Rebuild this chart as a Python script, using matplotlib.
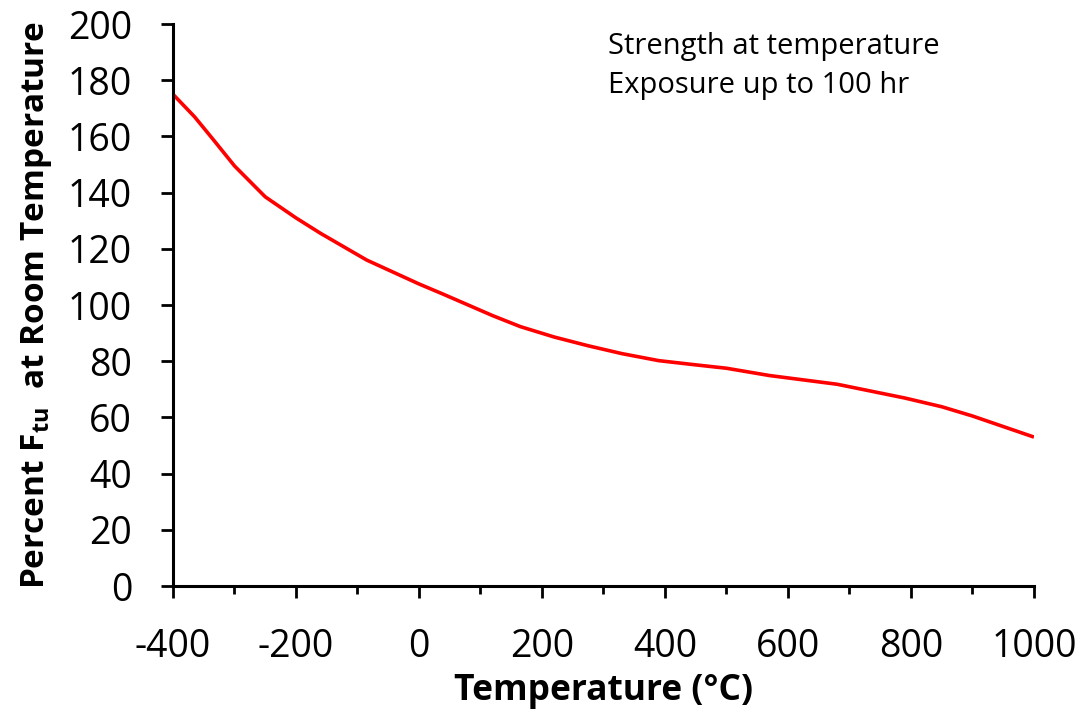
import matplotlib.pyplot as plt
from matplotlib.ticker import MultipleLocator

# strength retention curve, percent of room-temperature Ftu
temp_c = [-400, -365, -335, -300, -250, -200, -160, -85, 0, 40, 80, 120, 165, 220, 275, 330,
          390, 450, 500, 570, 680, 790, 850, 900, 1000]
pct_ftu = [175, 167, 159, 149.5, 138.5, 131, 125.5, 116, 107.5, 103.8, 100, 96.2, 92.3, 88.6,
           85.5, 82.7, 80.2, 78.7, 77.5, 74.9, 71.8, 66.9, 63.8, 60.5, 53]

x_ticks = [-400, -200, 0, 200, 400, 600, 800, 1000]
y_ticks = [0, 20, 40, 60, 80, 100, 120, 140, 160, 180, 200]
note_lines = ["Strength at temperature", "Exposure up to 100 hr"]

plt.rcParams['font.family'] = ['Open Sans', 'DejaVu Sans']
plt.rcParams['axes.unicode_minus'] = False
plt.rcParams['mathtext.fontset'] = 'custom'
plt.rcParams['mathtext.rm'] = 'Open Sans'
plt.rcParams['mathtext.bf'] = 'Open Sans:bold'

fig = plt.figure(figsize=(10.86, 7.11), dpi=100)
ax = fig.add_axes([0.1593, 0.1758, 0.7928, 0.7904])

ax.plot(temp_c, pct_ftu, color='#ff0000', lw=2.6, solid_capstyle='butt')

ax.set_xlim(-400, 1000)
ax.set_ylim(0, 200)
ax.set_xticks(x_ticks)
ax.set_yticks(y_ticks)
ax.xaxis.set_minor_locator(MultipleLocator(100))

for side in ['top', 'right']:
    ax.spines[side].set_visible(False)
for side in ['left', 'bottom']:
    ax.spines[side].set_linewidth(2.2)

ax.tick_params(axis='both', which='major', direction='out', length=8.5, width=2.0,
               labelsize=27)
ax.tick_params(axis='x', which='minor', direction='out', length=5.5, width=2.0)
ax.tick_params(axis='x', which='major', pad=22)
ax.tick_params(axis='y', which='major', pad=21)

ax.set_xlabel("Temperature (°C)", fontsize=25.5, fontweight='bold', labelpad=5)
ax.set_ylabel(r"Percent F$_\mathbf{tu}$  at Room Temperature", fontsize=24,
              fontweight='bold', labelpad=10)

ax.text(0.505, 0.985, "\n".join(note_lines), transform=ax.transAxes,
        fontsize=21, va='top', ha='left', linespacing=1.45)

fig.savefig("out.png", dpi=100)
